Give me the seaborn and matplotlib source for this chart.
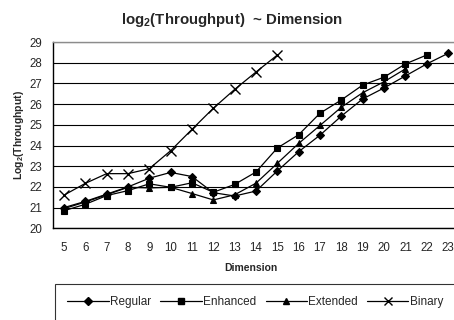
import numpy as np
import pandas as pd
import matplotlib
matplotlib.use("Agg")
import matplotlib.pyplot as plt
import seaborn as sns
from matplotlib.lines import Line2D

# ---- data ----
dims = list(range(5, 24))
regular = [21.0, 21.3, 21.65, 22.0, 22.42, 22.7, 22.5, 21.72, 21.56, 21.8, 22.77,
           23.7, 24.5, 25.42, 26.25, 26.78, 27.36, 27.94, 28.45]
enhanced = [20.85, 21.16, 21.58, 21.82, 22.15, 21.98, 22.2, 21.74, 22.12, 22.72, 23.88,
            24.52, 25.56, 26.2, 26.92, 27.3, 27.94, 28.37]
extended = [20.95, 21.27, 21.62, 21.98, 21.95, 21.98, 21.68, 21.37, 21.62, 22.18, 23.14,
            24.1, 24.97, 25.85, 26.55, 27.08, 27.7]
binary = [21.6, 22.17, 22.64, 22.64, 22.88, 23.75, 24.78, 25.8, 26.71, 27.55, 28.37]
series_names = ["Regular", "Enhanced", "Extended", "Binary"]
yticks = list(range(20, 30))

sns.set_style("white")
plt.rcParams["font.family"] = ["Liberation Sans", "DejaVu Sans"]
plt.rcParams["mathtext.fontset"] = "custom"
plt.rcParams["mathtext.rm"] = "Liberation Sans"
plt.rcParams["mathtext.bf"] = "Liberation Sans:bold"

fig = plt.figure(figsize=(4.54, 3.2), dpi=100)
ax = fig.add_axes([53.3 / 454, 1 - 228.3 / 320, (458.7 - 53.3) / 454, (228.3 - 42) / 320])

markers = {"Regular": "D", "Enhanced": "s", "Extended": "^", "Binary": "x"}
msizes = {"Regular": 3.8, "Enhanced": 4.2, "Extended": 4.6, "Binary": 6.5}
for name, vals in zip(series_names, [regular, enhanced, extended, binary]):
    d = pd.DataFrame({"Dimension": dims[:len(vals)], "value": vals})
    sns.lineplot(data=d, x="Dimension", y="value", ax=ax, color="black",
                 marker=markers[name], markersize=msizes[name],
                 markeredgecolor="black", markerfacecolor="black",
                 markeredgewidth=1.0 if name == "Binary" else 0.8,
                 linewidth=0.9, sort=False)

ax.set_xlim(4.5, 23.5)
ax.set_ylim(20, 29)
ax.set_yticks(yticks)
ax.set_xticks(dims)
ax.set_xticks(np.arange(4.5, 24.0, 1.0), minor=True)
ax.tick_params(axis="x", which="major", length=0, pad=10, labelsize=8.3)
ax.tick_params(axis="x", which="minor", length=4, width=0.8, direction="out", color="black")
ax.tick_params(axis="y", which="major", length=0, pad=8, labelsize=8.3)
ax.grid(axis="y", color="black", linewidth=0.8)
ax.set_axisbelow(True)
for s in ["left", "bottom"]:
    ax.spines[s].set_color("black")
    ax.spines[s].set_linewidth(1.0)
for s in ["top", "right"]:
    ax.spines[s].set_color("#8c8c8c")
    ax.spines[s].set_linewidth(1.0)
ax.set_xlabel("")
ax.set_ylabel("")

fig.text(232 / 454, 1 - 20 / 320, r"log$_\mathbf{2}$(Throughput)  ~ Dimension",
         ha="center", va="center", fontsize=10.8, fontweight="bold")
fig.text(19 / 454, 1 - 135 / 320, r"Log$_\mathbf{2}$(Throughput)",
         ha="center", va="center", rotation=90, fontsize=7.5, fontweight="bold")
fig.text(251 / 454, 1 - 268 / 320, "Dimension",
         ha="center", va="center", fontsize=7.5, fontweight="bold")

leg_handles = []
for name in series_names:
    ms = {"Regular": 3.8, "Enhanced": 4.2, "Extended": 4.6, "Binary": 5.5}[name]
    leg_handles.append(Line2D([], [], color="black", marker=markers[name], markersize=ms,
                              markeredgecolor="black", markerfacecolor="black",
                              linewidth=0.9))
leg = fig.legend(leg_handles, series_names, loc="upper left",
                 bbox_to_anchor=(55 / 454, 1 - 284 / 320), ncol=4, fontsize=8.5,
                 frameon=True, fancybox=False, edgecolor="black", handlelength=3.5,
                 handletextpad=0.1, columnspacing=0.8, borderpad=1.05,
                 borderaxespad=0)
leg.get_frame().set_linewidth(0.8)

fig.savefig("out.png", dpi=100)
